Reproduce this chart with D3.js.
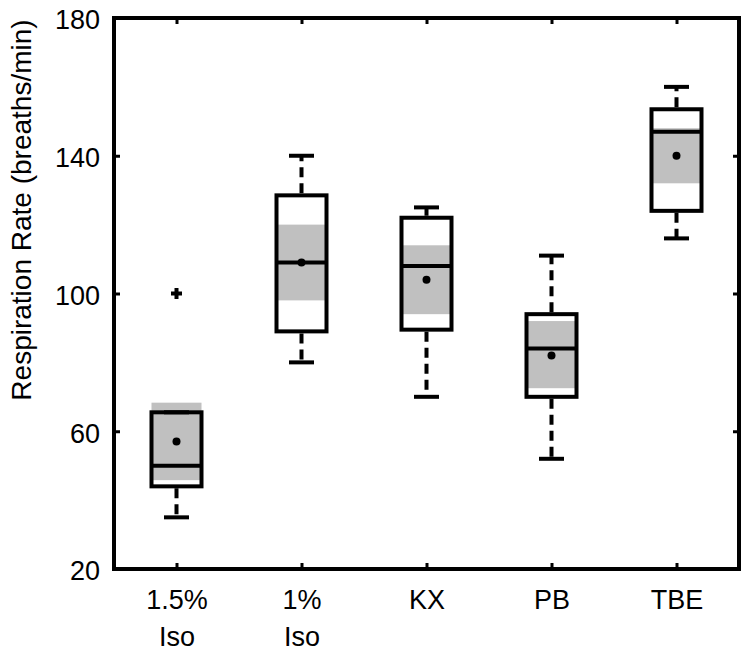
<!DOCTYPE html>
<html>
<head>
<meta charset="utf-8">
<script src="https://cdn.jsdelivr.net/npm/d3@7"></script>
<style>
  html, body { margin: 0; padding: 0; background: #fff; }
  svg { display: block; }
  text { font-family: "Liberation Sans", Arial, Helvetica, sans-serif; fill: #000; }
</style>
</head>
<body>
<svg id="chart" width="750" height="654"></svg>
<script>
// ---- data ----
const categories   = [["1.5%", "Iso"], ["1%", "Iso"], ["KX"], ["PB"], ["TBE"]];
const whiskerLow   = [35, 80, 70, 52, 116];
const q1           = [44, 89, 89.5, 70, 124];
const median       = [50, 109, 108, 84, 147];
const q3           = [65.5, 128.5, 122, 94, 153.5];
const whiskerHigh  = [65.5, 140, 125, 111, 160];
const means        = [57, 109, 104, 82, 140];
const ciLow        = [45.8, 98, 94, 72.5, 132];
const ciHigh       = [68.3, 120, 114, 92, 148];
const outliers     = [[100], [], [], [], []];
const yTicks       = [20, 60, 100, 140, 180];
const yLabel       = "Respiration Rate (breaths/min)";

// ---- layout ----
const svg = d3.select("#chart");
const pLeft = 114, pRight = 739, pTop = 18, pBottom = 569;
const idx = d3.range(categories.length);
const x = d3.scaleLinear().domain([0.5, categories.length + 0.5]).range([pLeft, pRight]);
const y = d3.scaleLinear().domain([20, 180]).range([pBottom, pTop]);
const boxHalf = 25, capHalf = 12.5, lw = 4;

// ---- boxes ----
const g = svg.append("g");
idx.forEach(i => {
  const cx = x(i + 1);
  // shaded interval around mean
  g.append("rect")
    .attr("x", cx - boxHalf).attr("width", boxHalf * 2)
    .attr("y", y(ciHigh[i])).attr("height", y(ciLow[i]) - y(ciHigh[i]))
    .attr("fill", "#c0c0c0");
  // whiskers (dashed)
  if (whiskerHigh[i] > q3[i]) {
    g.append("line").attr("x1", cx).attr("x2", cx)
      .attr("y1", y(q3[i]) - lw / 2).attr("y2", y(whiskerHigh[i]))
      .attr("stroke", "#000").attr("stroke-width", lw).attr("stroke-dasharray", "10,6");
  }
  g.append("line").attr("x1", cx).attr("x2", cx)
    .attr("y1", y(q1[i]) + lw / 2).attr("y2", y(whiskerLow[i]))
    .attr("stroke", "#000").attr("stroke-width", lw).attr("stroke-dasharray", "10,6");
  // caps
  [whiskerLow[i], whiskerHigh[i]].forEach(v => {
    g.append("line").attr("x1", cx - capHalf).attr("x2", cx + capHalf)
      .attr("y1", y(v)).attr("y2", y(v))
      .attr("stroke", "#000").attr("stroke-width", lw);
  });
  // box
  g.append("rect")
    .attr("x", cx - boxHalf).attr("width", boxHalf * 2)
    .attr("y", y(q3[i])).attr("height", y(q1[i]) - y(q3[i]))
    .attr("fill", "none").attr("stroke", "#000").attr("stroke-width", lw);
  // median
  g.append("line").attr("x1", cx - boxHalf).attr("x2", cx + boxHalf)
    .attr("y1", y(median[i])).attr("y2", y(median[i]))
    .attr("stroke", "#000").attr("stroke-width", lw);
  // mean dot
  g.append("circle").attr("cx", cx).attr("cy", y(means[i])).attr("r", 4).attr("fill", "#000");
  // outliers
  outliers[i].forEach(v => {
    g.append("path")
      .attr("d", `M${cx - 5.5},${y(v)}H${cx + 5.5}M${cx},${y(v) - 5.5}V${y(v) + 5.5}`)
      .attr("stroke", "#000").attr("stroke-width", 4).attr("fill", "none");
  });
});

// ---- axes ----
const tickLen = 6;
const axL = svg.append("g").attr("transform", `translate(${pLeft},0)`)
  .call(d3.axisLeft(y).tickValues(yTicks).tickSize(-tickLen).tickPadding(14));
const axR = svg.append("g").attr("transform", `translate(${pRight},0)`)
  .call(d3.axisRight(y).tickValues(yTicks).tickSize(-tickLen).tickFormat(""));
const axB = svg.append("g").attr("transform", `translate(0,${pBottom})`)
  .call(d3.axisBottom(x).tickValues(idx.map(i => i + 1)).tickSize(-tickLen).tickFormat(""));
const axT = svg.append("g").attr("transform", `translate(0,${pTop})`)
  .call(d3.axisTop(x).tickValues(idx.map(i => i + 1)).tickSize(-tickLen).tickFormat(""));

[axL, axR, axB, axT].forEach(a => {
  a.select(".domain").remove();
  a.selectAll(".tick line").attr("stroke", "#000").attr("stroke-width", 3);
});
axL.selectAll(".tick text")
  .attr("font-size", 27).attr("dy", "0.4em")
  .style("font-family", '"Liberation Sans", Arial, sans-serif').attr("fill", "#000");

// x tick labels (multi-line)
axB.selectAll(".tick").each(function(d) {
  const lines = categories[d - 1];
  const t = d3.select(this).append("text")
    .attr("text-anchor", "middle").attr("font-size", 27).attr("fill", "#000")
    .style("font-family", '"Liberation Sans", Arial, sans-serif');
  lines.forEach((s, k) => {
    t.append("tspan").attr("x", 0).attr("y", 40 + k * 37).text(s);
  });
});

// frame
svg.append("rect")
  .attr("x", pLeft).attr("y", pTop).attr("width", pRight - pLeft).attr("height", pBottom - pTop)
  .attr("fill", "none").attr("stroke", "#000").attr("stroke-width", 4);

// y label
svg.append("text")
  .attr("transform", "translate(31,210) rotate(-90)")
  .attr("text-anchor", "middle").attr("font-size", 28)
  .text(yLabel);
</script>
</body>
</html>
